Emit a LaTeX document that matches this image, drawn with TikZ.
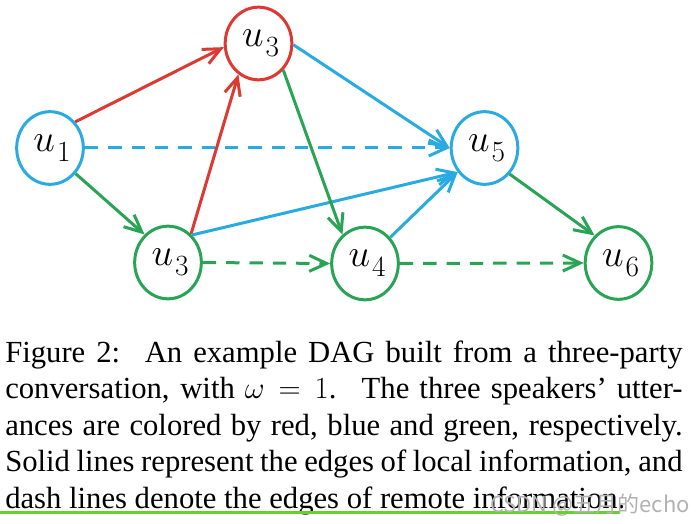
\RequirePackage{fix-cm}
\documentclass[tikz,border=0pt]{standalone}
\usepackage{fontspec}
\setmainfont{Liberation Serif}
\newfontfamily\cjkfont{Noto Sans CJK SC}
\usetikzlibrary{arrows.meta,shapes.geometric}
\definecolor{cred}{RGB}{222,56,50}
\definecolor{cblue}{RGB}{41,171,226}
\definecolor{cgreen}{RGB}{40,164,84}
\definecolor{hlgreen}{RGB}{100,210,45}
\newcommand\ulab[1]{\hspace*{3pt}$u$\kern1.5pt\raisebox{-7.5pt}{\fontsize{22}{22}\selectfont$#1$}}
\begin{document}
\begin{tikzpicture}[x=0.75pt,y=-0.75pt,
  unode/.style={ellipse,draw=#1,line width=2.25pt,minimum width=50pt,minimum height=54.5pt,
    inner sep=0pt,text=black,font=\fontsize{29}{32}\selectfont},
  edge/.style={line width=2.25pt,-{Straight Barb[length=13pt,width=12pt]}},
  dashedge/.style={edge,dash pattern=on 10pt off 7.5pt},
  capline/.style={anchor=base west,inner sep=0pt,font=\fontsize{23}{27.4}\selectfont},
  wmark/.style={anchor=base east,inner sep=0pt,text=black!30,font=\cjkfont\fontsize{16.5}{20}\selectfont}]
\useasboundingbox (0,0) rectangle (700,524);

% nodes
\node[unode=cred]   (u3t) at (258.5,43.5) {\ulab{3}};
\node[unode=cblue]  (u1)  at (50,148)     {\ulab{1}};
\node[unode=cblue]  (u5)  at (484.5,148)  {\ulab{5}};
\node[unode=cgreen] (u3b) at (168,262.5)  {\ulab{3}};
\node[unode=cgreen] (u4)  at (365,263.5)  {\ulab{4}};
\node[unode=cgreen] (u6)  at (618.5,263)  {\ulab{6}};

% edges
\draw[edge,cred]   (u1.46) -- (u3t.186);
\draw[dashedge,cblue] (u1.east) -- (u5.west);
\draw[edge,cgreen] (u1.-45) -- (u3b.130);
\draw[edge,cred]   (u3b.51) -- (u3t.237);
\draw[edge,cblue]  (u3b.49) -- (u5.222);
\draw[edge,cblue]  (u3t.-2) -- (u5.west);
\draw[edge,cgreen] (u3t.-47) -- (u4.128);
\draw[dashedge,cgreen] (u3b.east) -- (u4.west);
\draw[edge,cblue]  (u4.46) -- (u5.222);
\draw[edge,cgreen] (u5.-46) -- (u6.131);
\draw[dashedge,cgreen] (u4.east) -- (u6.west);

% caption
\node[capline] (c1) at (5,362) {\makebox[508pt][s]{Figure 2:\hspace{0.25em} An example DAG built from a three-party}};
\node[capline] (c2) at (5,398.5) {\makebox[508pt][s]{conversation, with $\omega = 1$.\hspace{0.25em} The three speakers’ utter-}};
\node[capline] (c3) at (5,435) {\makebox[508pt][s]{ances are colored by red, blue and green, respectively.}};
\node[capline] (c4) at (5,471.5) {\makebox[508pt][s]{Solid lines represent the edges of local information, and}};
\node[capline] (c5) at (5,508) {dash lines denote the edges of remote information.};

\draw[hlgreen,line width=2.25pt] (0,512) -- (620,512);
\node[wmark] (wm) at (690,512) {CSDN @五月的echo};
\end{tikzpicture}
\end{document}
